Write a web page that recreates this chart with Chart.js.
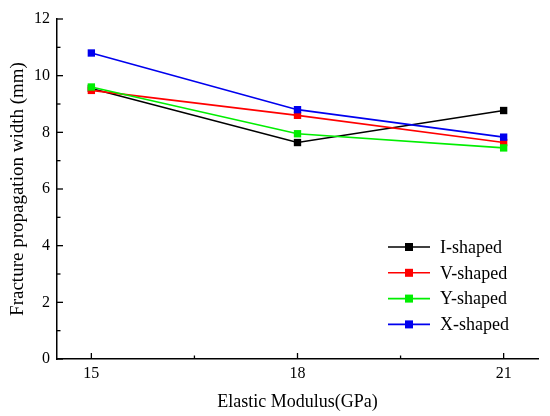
<!DOCTYPE html>
<html><head><meta charset="utf-8">
<script src="https://cdn.jsdelivr.net/npm/chart.js@4.4.0/dist/chart.umd.min.js"></script>
<style>html,body{margin:0;padding:0;background:#fff;}#wrap{width:550px;height:416px;}</style>
</head><body><div id="wrap"><canvas id="c"></canvas></div>
<script>
const xValues = [15, 18, 21];
const seriesNames = ['I-shaped', 'V-shaped', 'Y-shaped', 'X-shaped'];
const seriesColors = ['#000000', '#ff0000', '#00ee00', '#0000ee'];
const iShaped = [9.55, 7.64, 8.77];
const vShaped = [9.48, 8.60, 7.64];
const yShaped = [9.60, 7.95, 7.45];
const xShaped = [10.80, 8.80, 7.83];
const xTicks = [15, 18, 21];
const xMinorTicks = [16.5, 19.5];
const yTicks = [0, 2, 4, 6, 8, 10, 12];
const yMinorTicks = [1, 3, 5, 7, 9, 11];
const allSeries = [iShaped, vShaped, yShaped, xShaped];

const FONT = "'Liberation Serif', 'Times New Roman', serif";

const datasets = allSeries.map((vals, i) => ({
  label: seriesNames[i],
  data: vals.map((v, j) => ({x: xValues[j], y: v})),
  borderColor: seriesColors[i],
  backgroundColor: seriesColors[i],
  borderWidth: 1.6,
  pointStyle: 'rect',
  pointRadius: 5.2,
  pointBorderWidth: 0,
  pointBorderColor: seriesColors[i],
  order: 4 - i,
  tension: 0
}));

const tickPlugin = {
  id: 'inTicks',
  afterDraw(chart) {
    const ctx = chart.ctx;
    const xs = chart.scales.x, ys = chart.scales.y;
    const area = chart.chartArea;
    ctx.save();
    ctx.strokeStyle = '#000';
    ctx.lineWidth = 1.3;
    xTicks.forEach(v => { const p = xs.getPixelForValue(v); ctx.beginPath(); ctx.moveTo(p, area.bottom); ctx.lineTo(p, area.bottom - 6); ctx.stroke(); });
    xMinorTicks.forEach(v => { const p = xs.getPixelForValue(v); ctx.beginPath(); ctx.moveTo(p, area.bottom); ctx.lineTo(p, area.bottom - 3.5); ctx.stroke(); });
    yTicks.forEach(v => { const p = ys.getPixelForValue(v); ctx.beginPath(); ctx.moveTo(area.left, p); ctx.lineTo(area.left + 6, p); ctx.stroke(); });
    yMinorTicks.forEach(v => { const p = ys.getPixelForValue(v); ctx.beginPath(); ctx.moveTo(area.left, p); ctx.lineTo(area.left + 3.5, p); ctx.stroke(); });
    // legend
    const x0 = 388, x1 = 430, tx = 440, y0 = 247, dy = 25.8;
    chart.data.datasets.forEach((ds, i) => {
      const y = y0 + i * dy;
      ctx.strokeStyle = ds.borderColor;
      ctx.lineWidth = 1.6;
      ctx.beginPath(); ctx.moveTo(x0, y); ctx.lineTo(x1, y); ctx.stroke();
      ctx.fillStyle = ds.backgroundColor;
      ctx.fillRect((x0 + x1) / 2 - 4, y - 4, 8, 8);
      ctx.fillStyle = '#000';
      ctx.font = '18px ' + FONT;
      ctx.textBaseline = 'middle';
      ctx.textAlign = 'left';
      ctx.fillText(ds.label, tx, y + 1);
    });
    ctx.restore();
  }
};

new Chart(document.getElementById('c'), {
  type: 'line',
  data: { datasets },
  options: {
    responsive: true,
    maintainAspectRatio: false,
    animation: false,
    layout: { padding: { top: 19, right: 12, left: 0, bottom: 0 } },
    plugins: { legend: { display: false }, tooltip: { enabled: false } },
    scales: {
      x: {
        type: 'linear',
        min: 14.5, max: 21.5,
        afterBuildTicks(scale) { scale.ticks = xTicks.map(v => ({value: v})); },
        afterFit(scale) { scale.height = 57; },
        grid: { display: false, drawTicks: false },
        border: { display: true, color: '#000', width: 1.5 },
        ticks: { color: '#000', font: { family: FONT, size: 16 }, padding: 5, maxRotation: 0, autoSkip: false },
        title: { display: true, text: 'Elastic Modulus(GPa)', color: '#000', font: { family: FONT, size: 18 }, padding: { top: 0, bottom: 3 } }
      },
      y: {
        min: 0, max: 12,
        afterBuildTicks(scale) { scale.ticks = yTicks.map(v => ({value: v})); },
        afterFit(scale) { scale.width = 57; },
        grid: { display: false, drawTicks: false },
        border: { display: true, color: '#000', width: 1.5 },
        ticks: { color: '#000', font: { family: FONT, size: 16 }, padding: 7 },
        title: { display: true, text: 'Fracture propagation width (mm)', color: '#000', font: { family: FONT, size: 19 }, padding: { top: 7, bottom: 0 } }
      }
    }
  },
  plugins: [tickPlugin]
});
</script></body></html>
